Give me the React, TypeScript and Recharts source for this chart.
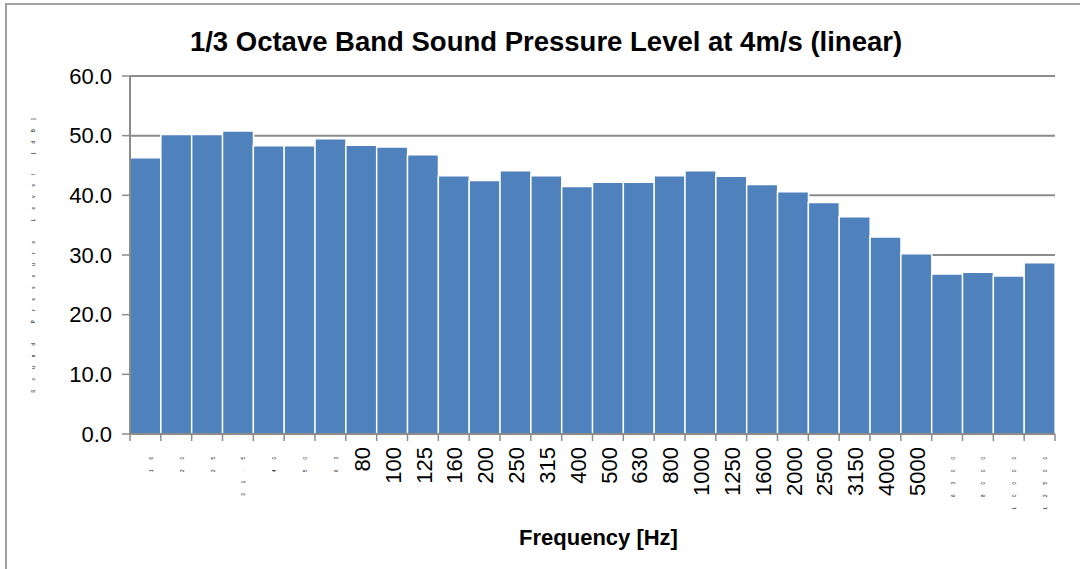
import { BarChart, Bar, XAxis, YAxis, CartesianGrid } from "recharts";

// 1/3 octave band centre frequencies [Hz]
const FREQUENCIES = [
  "16", "20", "25", "31.5", "40", "50", "63", "80", "100", "125",
  "160", "200", "250", "315", "400", "500", "630", "800", "1000", "1250",
  "1600", "2000", "2500", "3150", "4000", "5000", "6300", "8000", "10000", "12500",
];

// sound pressure level, linear weighting, at 4 m/s [dB]
const SPL_LINEAR = [
  46.3, 50.2, 50.2, 50.8, 48.3, 48.3, 49.5, 48.4, 48.1, 46.8,
  43.3, 42.5, 44.1, 43.3, 41.5, 42.2, 42.2, 43.3, 44.1, 43.2,
  41.8, 40.6, 38.8, 36.4, 33.0, 30.2, 26.8, 27.1, 26.5, 28.7,
];

const Y_TICKS = [0, 10, 20, 30, 40, 50, 60];

// labels that came out shrunk in the original export
const TINY_LABELS = ["16", "20", "25", "31.5", "40", "50", "63", "6300", "8000", "10000", "12500"];

const data = FREQUENCIES.map((freq, i) => ({ freq, spl: SPL_LINEAR[i] }));

const W = 1080;
const H = 569;
const MARGIN = { top: 76, right: 25, bottom: 0, left: 20 };
const Y_AXIS_W = 110;
const X_AXIS_H = 135;
const X_TICK_SIZE = 7;
const X_TICK_MARGIN = 6;
const BAND_W = (W - MARGIN.left - Y_AXIS_W - MARGIN.right) / FREQUENCIES.length;

const FONT = '"Liberation Sans", Arial, sans-serif';
const GREY = "#8c8c8c";
const BLUE = "#4F81BD";

function FreqTick(props: any) {
  const { x, y, payload, index } = props;
  const tiny = TINY_LABELS.includes(payload.value);
  const axisY = y - X_TICK_SIZE - X_TICK_MARGIN;
  const left = x - BAND_W / 2;
  const right = x + BAND_W / 2;
  return (
    <g>
      <line x1={left} x2={left} y1={axisY} y2={axisY + X_TICK_SIZE} stroke={GREY} strokeWidth={1.5} />
      {index === FREQUENCIES.length - 1 && (
        <line x1={right} x2={right} y1={axisY} y2={axisY + X_TICK_SIZE} stroke={GREY} strokeWidth={1.5} />
      )}
      <text
        transform={`translate(${tiny ? x + 6 : x + 1},${y}) rotate(-90)`}
        textAnchor="end"
        dy="0.35em"
        fontFamily={FONT}
        fontSize={tiny ? 4.5 : 22}
        letterSpacing={tiny ? 10 : 0}
        fill="#000"
      >
        {payload.value}
      </text>
    </g>
  );
}

function XTitle(props: any) {
  const { viewBox } = props;
  return (
    <text
      x={viewBox.x + viewBox.width / 2 + 6}
      y={viewBox.y + viewBox.height - 24}
      textAnchor="middle"
      fontFamily={FONT}
      fontWeight="bold"
      fontSize={22}
      fill="#000"
    >
      Frequency [Hz]
    </text>
  );
}

function YTitle(props: any) {
  const { viewBox } = props;
  const cx = viewBox.x + 13;
  const cy = viewBox.y + viewBox.height / 2 - 4;
  return (
    <text
      transform={`translate(${cx},${cy}) rotate(-90)`}
      textAnchor="middle"
      dy="0.35em"
      fontFamily={FONT}
      fontSize={4.5}
      letterSpacing={9.2}
      fill="#000"
    >
      Sound Pressure Level [dB]
    </text>
  );
}

export default function App() {
  return (
    <div
      style={{
        position: "absolute",
        left: 0,
        top: 0,
        width: W,
        height: H,
        overflow: "hidden",
        background: "#fff",
        fontFamily: FONT,
      }}
    >
      <div
        style={{
          position: "absolute",
          left: 5,
          top: 3,
          width: W + 20,
          height: H + 20,
          border: "2px solid #a0a0a0",
        }}
      />
      <div
        style={{
          position: "absolute",
          left: 6,
          top: 26,
          width: W,
          textAlign: "center",
          fontSize: 27.5,
          fontWeight: "bold",
          lineHeight: "32px",
          color: "#000",
        }}
      >
        1/3 Octave Band Sound Pressure Level at 4m/s (linear)
      </div>
      <div style={{ position: "absolute", left: 0, top: 0 }}>
        <BarChart width={W} height={H} data={data} margin={MARGIN} barCategoryGap={0}>
          <CartesianGrid vertical={false} stroke={GREY} strokeWidth={2} />
          <XAxis
            dataKey="freq"
            height={X_AXIS_H}
            interval={0}
            tickLine={false}
            tickSize={X_TICK_SIZE}
            tickMargin={X_TICK_MARGIN}
            axisLine={{ stroke: GREY, strokeWidth: 2 }}
            tick={<FreqTick />}
            label={<XTitle />}
          />
          <YAxis
            width={Y_AXIS_W}
            domain={[0, 60]}
            ticks={Y_TICKS}
            interval={0}
            tickFormatter={(v: number) => v.toFixed(1)}
            tickSize={8}
            tickMargin={10}
            tick={{ fontSize: 22, fill: "#000", fontFamily: FONT }}
            tickLine={{ stroke: GREY, strokeWidth: 1.5 }}
            axisLine={{ stroke: GREY, strokeWidth: 2 }}
            label={<YTitle />}
          />
          <Bar dataKey="spl" fill={BLUE} stroke="#fff" strokeWidth={1.5} isAnimationActive={false} />
        </BarChart>
      </div>
    </div>
  );
}
